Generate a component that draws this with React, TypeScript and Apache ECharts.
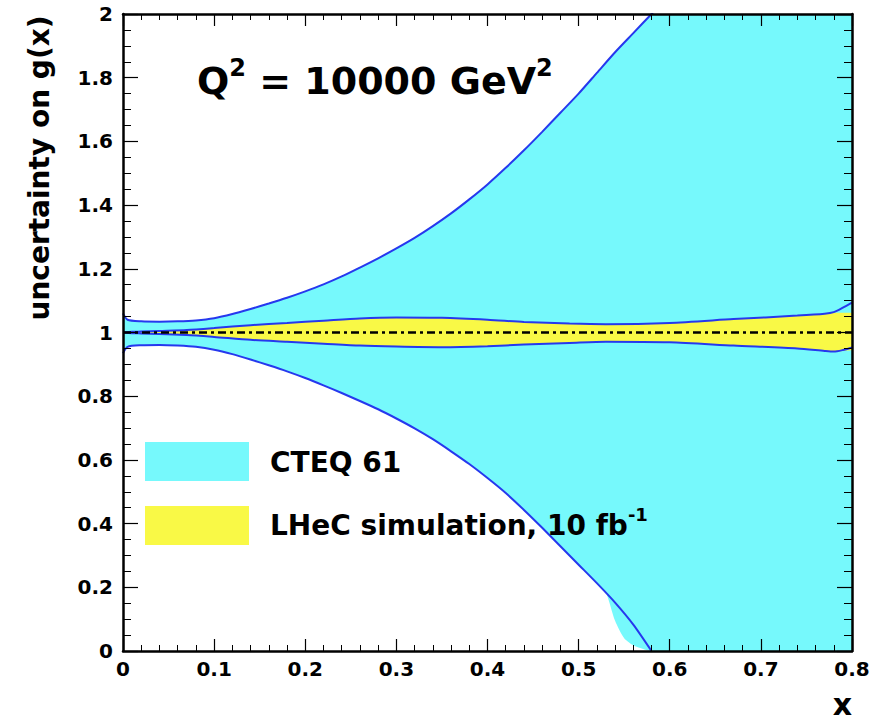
import { useEffect, useRef } from 'react';
import * as echarts from 'echarts';

// CTEQ 61 band (outer) - upper edge
const cteqUpperX = [0, 0.005, 0.02, 0.04, 0.06, 0.08, 0.10, 0.12, 0.14, 0.16, 0.18, 0.20, 0.22, 0.24, 0.26, 0.28, 0.30, 0.32, 0.34, 0.36, 0.38, 0.40, 0.42, 0.44, 0.46, 0.48, 0.50, 0.52, 0.54, 0.56, 0.58, 0.60, 0.62, 0.80];
const cteqUpper = [1.06, 1.04, 1.035, 1.034, 1.035, 1.038, 1.045, 1.058, 1.074, 1.091, 1.109, 1.129, 1.151, 1.176, 1.204, 1.233, 1.264, 1.297, 1.334, 1.374, 1.418, 1.465, 1.517, 1.572, 1.630, 1.690, 1.750, 1.815, 1.880, 1.940, 2.0, 2.06, 2.12, 2.7];
// CTEQ 61 band - lower edge (outline)
const cteqLowerX = [0, 0.005, 0.02, 0.04, 0.06, 0.08, 0.10, 0.12, 0.14, 0.16, 0.18, 0.20, 0.22, 0.24, 0.26, 0.28, 0.30, 0.32, 0.34, 0.36, 0.38, 0.40, 0.42, 0.44, 0.46, 0.48, 0.50, 0.52, 0.54, 0.56, 0.58];
const cteqLower = [0.935, 0.955, 0.96, 0.961, 0.959, 0.955, 0.946, 0.932, 0.915, 0.897, 0.878, 0.857, 0.834, 0.810, 0.785, 0.759, 0.730, 0.699, 0.665, 0.627, 0.587, 0.543, 0.496, 0.443, 0.387, 0.329, 0.271, 0.213, 0.152, 0.083, 0.0];
// CTEQ 61 band - lower edge of the fill
const cteqFillLowerX = [0, 0.005, 0.02, 0.04, 0.06, 0.08, 0.10, 0.12, 0.14, 0.16, 0.18, 0.20, 0.22, 0.24, 0.26, 0.28, 0.30, 0.32, 0.34, 0.36, 0.38, 0.40, 0.42, 0.44, 0.46, 0.48, 0.50, 0.52, 0.53, 0.54, 0.55, 0.56, 0.57, 0.58, 0.80];
const cteqFillLower = [0.935, 0.955, 0.96, 0.961, 0.959, 0.955, 0.946, 0.932, 0.915, 0.897, 0.878, 0.857, 0.834, 0.810, 0.785, 0.759, 0.730, 0.699, 0.665, 0.627, 0.587, 0.543, 0.496, 0.443, 0.387, 0.329, 0.271, 0.213, 0.183, 0.095, 0.04, 0.018, 0.007, 0, 0];

// LHeC simulation band (inner)
const lhecX = [0, 0.01, 0.02, 0.04, 0.07, 0.1, 0.14, 0.18, 0.22, 0.26, 0.3, 0.35, 0.4, 0.44, 0.49, 0.53, 0.6, 0.67, 0.74, 0.77, 0.78, 0.79, 0.8];
const lhecUpperLine = [1.0, 1.002, 1.003, 1.005, 1.008, 1.014, 1.023, 1.03, 1.037, 1.044, 1.047, 1.046, 1.04, 1.033, 1.028, 1.026, 1.03, 1.042, 1.053, 1.059, 1.064, 1.078, 1.094];
const lhecLowerLine = [1.0, 0.998, 0.997, 0.995, 0.992, 0.986, 0.977, 0.971, 0.965, 0.959, 0.956, 0.954, 0.957, 0.962, 0.967, 0.971, 0.969, 0.959, 0.95, 0.942, 0.94, 0.945, 0.953];
const lhecFillUpper = [1.0, 1.002, 1.003, 1.005, 1.008, 1.014, 1.023, 1.03, 1.037, 1.044, 1.047, 1.046, 1.04, 1.033, 1.028, 1.026, 1.03, 1.042, 1.053, 1.059, 1.062, 1.062, 1.062];
const lhecFillLower = [1.0, 0.998, 0.997, 0.995, 0.992, 0.986, 0.977, 0.971, 0.965, 0.959, 0.956, 0.954, 0.957, 0.962, 0.967, 0.971, 0.969, 0.959, 0.95, 0.942, 0.94, 0.942, 0.944];

// reference line
const refX = [0, 0.8];
const refY = [1, 1];

const xTicks = { min: 0, max: 0.8, interval: 0.1 };
const yTicks = { min: 0, max: 2, interval: 0.2 };

const FONT = 'DejaVu Sans';
const CYAN = '#76f9fc';
const YELLOW = '#f9f946';
const BLUE = '#2638ee';
const SMOOTH = 0.25;

const zip = (xs: number[], ys: number[]) => ys.map((y, i) => [xs[i], y]);

export default function App() {
  const ref = useRef<HTMLDivElement>(null);
  useEffect(() => {
    const chart = echarts.init(ref.current!, null, { renderer: 'svg' });
    const area = (xs: number[], ys: number[], color: string) => ({
      type: 'line', data: zip(xs, ys), symbol: 'none', silent: true, z: 2,
      smooth: SMOOTH,
      lineStyle: { width: 0, opacity: 0 },
      areaStyle: { color, opacity: 1, origin: 'start' },
    });
    const curve = (xs: number[], ys: number[]) => ({
      type: 'line', data: zip(xs, ys), symbol: 'none', silent: true, z: 3,
      smooth: SMOOTH,
      lineStyle: { color: BLUE, width: 2 },
    });
    const label = { fontFamily: FONT, fontWeight: 'bold', fontSize: 20, color: '#000' };
    const axisLine = { show: true, onZero: false, lineStyle: { color: '#000', width: 2.5 } };
    const option: any = {
      animation: false,
      backgroundColor: '#fff',
      grid: { left: 123, right: 32, top: 14, bottom: 71, containLabel: false },
      xAxis: [
        {
          type: 'value', position: 'bottom', ...xTicks, z: 10,
          axisLine, splitLine: { show: false },
          axisTick: { inside: true, length: 12, lineStyle: { color: '#000', width: 1.2 } },
          minorTick: { show: true, splitNumber: 5, length: 6, lineStyle: { color: '#000', width: 1 } },
          axisLabel: { ...label, margin: 8 },
        },
        {
          type: 'value', position: 'top', ...xTicks, z: 10,
          axisLine, splitLine: { show: false },
          axisTick: { inside: true, length: 12, lineStyle: { color: '#000', width: 1.2 } },
          minorTick: { show: true, splitNumber: 5, length: 6, lineStyle: { color: '#000', width: 1 } },
          axisLabel: { show: false },
        },
      ],
      yAxis: [
        {
          type: 'value', position: 'left', ...yTicks, z: 10,
          axisLine, splitLine: { show: false },
          axisTick: { inside: true, length: 15, lineStyle: { color: '#000', width: 1.2 } },
          minorTick: { show: true, splitNumber: 4, length: 8, lineStyle: { color: '#000', width: 1 } },
          axisLabel: { ...label, margin: 10 },
        },
        {
          type: 'value', position: 'right', ...yTicks, z: 10,
          axisLine, splitLine: { show: false },
          axisTick: { inside: true, length: 15, lineStyle: { color: '#000', width: 1.2 } },
          minorTick: { show: true, splitNumber: 4, length: 8, lineStyle: { color: '#000', width: 1 } },
          axisLabel: { show: false },
        },
      ],
      series: [
        area(cteqUpperX, cteqUpper, CYAN),
        area(lhecX, lhecFillUpper, YELLOW),
        area(lhecX, lhecFillLower, CYAN),
        area(cteqFillLowerX, cteqFillLower, '#ffffff'),
        curve(cteqUpperX, cteqUpper),
        curve(cteqLowerX, cteqLower),
        curve(lhecX, lhecUpperLine),
        curve(lhecX, lhecLowerLine),
        {
          type: 'line', data: zip(refX, refY), symbol: 'none', silent: true, z: 4,
          lineStyle: { color: '#000', width: 2.6, type: [8, 4, 3, 4] },
        },
      ],
      graphic: [
        {
          type: 'text', x: 197, y: 78, z: 20,
          style: {
            text: '{m|Q}{s|2}{m| = 10000 GeV}{s|2}',
            verticalAlign: 'middle',
            rich: {
              m: { fontFamily: FONT, fontWeight: 'bold', fontSize: 38, lineHeight: 44, verticalAlign: 'bottom', fill: '#000' },
              s: { fontFamily: FONT, fontWeight: 'bold', fontSize: 24, lineHeight: 24, verticalAlign: 'top', fill: '#000' },
            },
          },
        },
        { type: 'rect', z: 20, shape: { x: 145, y: 442, width: 104, height: 39 }, style: { fill: CYAN } },
        { type: 'rect', z: 20, shape: { x: 145, y: 506, width: 104, height: 39 }, style: { fill: YELLOW } },
        {
          type: 'text', x: 270, y: 462, z: 20,
          style: { text: 'CTEQ 61', fontFamily: FONT, fontWeight: 'bold', fontSize: 28, fill: '#000', verticalAlign: 'middle' },
        },
        {
          type: 'text', x: 270, y: 522, z: 20,
          style: {
            text: '{m|LHeC simulation, 10 fb}{s|-1}',
            verticalAlign: 'middle',
            rich: {
              m: { fontFamily: FONT, fontWeight: 'bold', fontSize: 28, lineHeight: 34, verticalAlign: 'bottom', fill: '#000' },
              s: { fontFamily: FONT, fontWeight: 'bold', fontSize: 18, lineHeight: 18, verticalAlign: 'top', fill: '#000' },
            },
          },
        },
        {
          type: 'text', x: 39, y: 168, rotation: Math.PI / 2, z: 20,
          style: { text: 'uncertainty on g(x)', fontFamily: FONT, fontWeight: 'bold', fontSize: 28, fill: '#000', align: 'center', verticalAlign: 'middle' },
        },
        {
          type: 'text', x: 852, y: 704, z: 20,
          style: { text: 'x', fontFamily: FONT, fontWeight: 'bold', fontSize: 30, fill: '#000', align: 'right', verticalAlign: 'middle' },
        },
      ],
    };
    chart.setOption(option);
    return () => chart.dispose();
  }, []);
  return <div ref={ref} style={{ position: 'fixed', left: 0, top: 0, width: 884, height: 722, background: '#fff' }} />;
}
